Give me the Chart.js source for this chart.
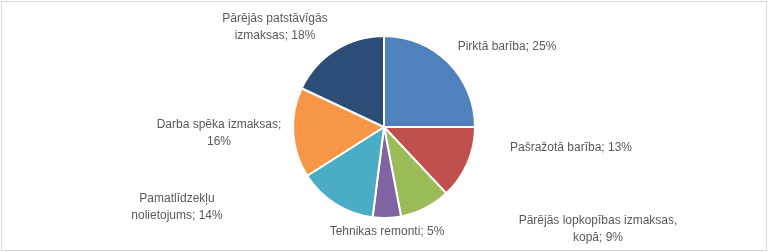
<!DOCTYPE html>
<html>
<head>
<meta charset="utf-8">
<script src="https://cdn.jsdelivr.net/npm/chart.js@4/dist/chart.umd.min.js"></script>
<style>
html,body{margin:0;padding:0;background:#fff;}
#wrap{position:relative;width:768px;height:252px;}
</style>
</head>
<body>
<div id="wrap"><canvas id="c" width="768" height="252"></canvas></div>
<script>
// Data
const categories = [
  "Pirktā barība",
  "Pašražotā barība",
  "Pārējās lopkopības izmaksas, kopā",
  "Tehnikas remonti",
  "Pamatlīdzekļu nolietojums",
  "Darba spēka izmaksas",
  "Pārējās patstāvīgās izmaksas"
];
const shares = [25, 13, 9, 5, 14, 16, 18];
const labelLines = [
  ["Pirktā barība; 25%"],
  ["Pašražotā barība; 13%"],
  ["Pārējās lopkopības izmaksas,", "kopā; 9%"],
  ["Tehnikas remonti; 5%"],
  ["Pamatlīdzekļu", "nolietojums; 14%"],
  ["Darba spēka izmaksas;", "16%"],
  ["Pārējās patstāvīgās", "izmaksas; 18%"]
];

// Styles / layout (not data)
const colors = ["#4F81BD","#C0504D","#9BBB59","#8064A2","#4BACC6","#F79646","#2C4D75"];
// label centre offsets from pie centre (px)
const labelOffsets = [
  [123,-80],[187,21],[214,102],[3,105],[-207,80],[-165,6],[-109,-100]
];

const frame = {
  id:'frame',
  beforeDraw(chart){
    const ctx = chart.ctx;
    ctx.save();
    ctx.fillStyle = '#fff';
    ctx.fillRect(0,0,chart.width,chart.height);
    ctx.strokeStyle = '#d9d9d9';
    ctx.lineWidth = 1;
    ctx.strokeRect(1.5,1.5,chart.width-3,chart.height-3);
    ctx.restore();
  }
};

const outLabels = {
  id:'outLabels',
  afterDatasetsDraw(chart){
    const ctx = chart.ctx;
    const meta = chart.getDatasetMeta(0);
    const arc0 = meta.data[0];
    const cx = arc0.x, cy = arc0.y;
    ctx.save();
    ctx.font = '12px "Liberation Sans", Arial, sans-serif';
    ctx.fillStyle = '#595959';
    ctx.textAlign = 'center';
    ctx.textBaseline = 'middle';
    const lh = 16.5;
    labelLines.forEach((lines,i)=>{
      const [ox,oy] = labelOffsets[i];
      const n = lines.length;
      lines.forEach((t,j)=>{
        ctx.fillText(t, cx+ox, cy+oy + (j-(n-1)/2)*lh);
      });
    });
    ctx.restore();
  }
};

new Chart(document.getElementById('c'), {
  type:'pie',
  data:{
    labels:categories,
    datasets:[{
      data:shares,
      backgroundColor:colors,
      borderColor:'#ffffff',
      borderWidth:2
    }]
  },
  options:{
    responsive:false,
    animation:false,
    layout:{padding:{top:35,bottom:33,left:0,right:0}},
    plugins:{legend:{display:false},tooltip:{enabled:false}}
  },
  plugins:[frame,outLabels]
});
</script>
</body>
</html>
